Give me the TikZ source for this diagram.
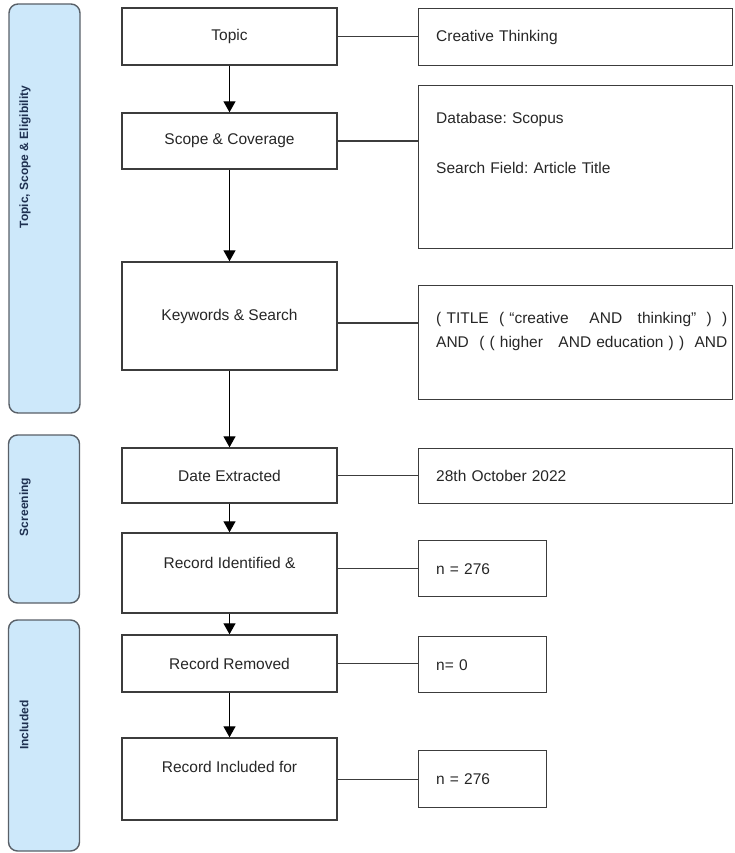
\documentclass[tikz,border=0pt]{standalone}
\usepackage{fontspec}
\setmainfont{Liberation Sans}
\usepackage{xcolor}
\definecolor{phfill}{HTML}{CDE8FA}
\definecolor{phline}{HTML}{596068}
\definecolor{phtext}{HTML}{1E3050}
\definecolor{edge}{HTML}{3C3C3C}
\usetikzlibrary{arrows.meta,positioning,calc}
\frenchspacing
\tikzset{
  >={Triangle[length=11pt,width=12pt]},
  box/.style={draw=edge,line width=1.4pt,minimum width=215pt,inner sep=0pt,align=center,font=\fontsize{15.5}{24}\selectfont,text=black!85},
  rbox/.style={box,anchor=north west,minimum width=0pt,inner xsep=18pt,inner ysep=0pt,align=left,text width=#1},
  rbox/.default=278pt,
  phase/.style={draw=phline,fill=phfill,line width=1.4pt,rounded corners=9pt,minimum width=71pt,inner sep=0pt},
  phlab/.style={font=\bfseries\fontsize{12}{15}\selectfont,text=phtext,rotate=90},
  arr/.style={->,draw=black,line width=1.3pt},
  link/.style={draw=edge,line width=1.3pt},
}
\begin{document}
\begin{tikzpicture}[x=1pt,y=-1pt]
\useasboundingbox (0,0) rectangle (734,853);
% phase bars
\node[phase,minimum height=409pt] (ph1) at (44.5,208.5) {};
\node[phase,minimum height=168pt] (ph2) at (44,519) {};
\node[phase,minimum height=231pt] (ph3) at (44,735.5) {};
\node[phlab] (ph1t) at (25,157) {Topic, Scope \& Eligibility};
\node[phlab] (ph2t) at (25,507) {Screening};
\node[phlab] (ph3t) at (24,725) {Included};
% main column
\node[box,minimum height=57pt] (top) at (229.5,36.5) {Topic};
\node[box,minimum height=56pt] (scp) at (229.5,141) {Scope \& Coverage};
\node[box,minimum height=108pt] (kw) at (229.5,316) {Keywords \& Search};
\node[box,minimum height=55pt] (dex) at (229.5,475.5) {Date Extracted};
\node[box,minimum height=80pt,text depth=20pt] (rid) at (229.5,573) {Record Identified \&};
\node[box,minimum height=57pt] (rrm) at (229.5,663.5) {Record Removed};
\node[box,minimum height=82pt,text depth=24pt] (rin) at (229.5,779) {Record Included for};
\foreach \u/\v in {top/scp,scp/kw,kw/dex,dex/rid,rid/rrm,rrm/rin} \draw[arr] (\u)--(\v);
% details column
\node[rbox,minimum height=57pt] (ct) at (417.5,8) {Creative Thinking};
\node[rbox,minimum height=163pt,text depth=99pt] (db) at (417.5,85) {Database: Scopus\\[26pt]Search Field: Article Title};
\node[rbox,minimum height=114pt,text depth=50pt] (kq) at (417.5,285)
  {\mbox{(~TITLE~~(~“creative~~~~AND~~~thinking”~~)~~)}\\\mbox{AND~~(~(~higher~~~AND education~)~)~~AND}};
\node[rbox,minimum height=55pt] (de) at (417.5,448) {28th October 2022};
\node[rbox=92pt,minimum height=56pt] (n1) at (417.5,540) {n = 276};
\node[rbox=92pt,minimum height=56pt] (n0) at (417.5,636) {n= 0};
\node[rbox=92pt,minimum height=57pt] (n2) at (417.5,750) {n = 276};
\foreach \u/\v in {top/ct,scp/db,dex/de,rrm/n0} \draw[link] (\u.east) -- (\u.east -| \v.west);
\draw[link] ([yshift=-7pt]kw.east) -- ([yshift=-7pt]kw.east -| kq.west);
\draw[link] (n1.west -| rid.east) -- (n1.west);
\draw[link] (n2.west -| rin.east) -- (n2.west);
\end{tikzpicture}
\end{document}
